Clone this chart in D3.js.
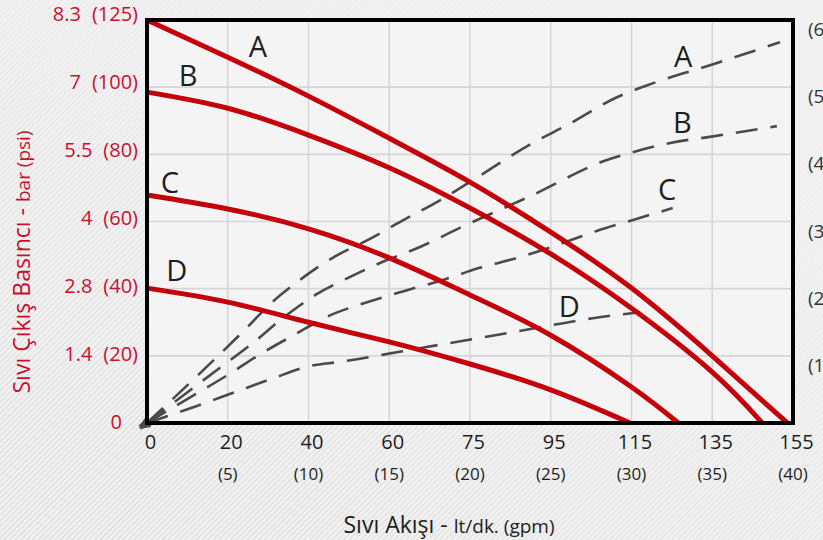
<!DOCTYPE html>
<html lang="tr">
<head>
    <meta charset="utf-8">
    <title>Pompa performans egrisi</title>
    <script type="text/javascript" src="https://d3js.org/d3.v7.min.js"></script>
    <style>
        html, body {
            margin: 0;
            padding: 0;
            width: 100%;
            height: 100%;
            overflow: hidden;
            background: #efefef;
        }
        text {
            font-family: "Open Sans", "Noto Sans", sans-serif;
        }
        .grid line {
            stroke: #d6d6d6;
            stroke-width: 1.6px;
        }
        path.pressure {
            fill: none;
            stroke: #c4000b;
            stroke-width: 5px;
        }
        path.air {
            fill: none;
            stroke: #4a4a4a;
            stroke-width: 2.6px;
            stroke-dasharray: 22, 13;
        }
        .redText { fill: #c8102e; }
        .darkText { fill: #1e1e1e; }
    </style>
</head>
<body>
<script type="text/javascript">

    // tick labels
    var flowTicks = [0, 20, 40, 60, 75, 95, 115, 135, 155];        // lt/dk
    var gpmTicks = ["", "(5)", "(10)", "(15)", "(20)", "(25)", "(30)", "(35)", "(40)"];
    var barTicks = [0, 1.4, 2.8, 4, 5.5, 7, 8.3];
    var psiTicks = ["", "(20)", "(40)", "(60)", "(80)", "(100)", "(125)"];
    var rightTicks = [10, 20, 30, 40, 50, 60];

    // outlet pressure curves [lt/dk, bar]
    var pressA = [[0, 8.3], [20, 7.58], [40, 6.8], [60, 5.86], [75, 4.88], [95, 3.81], [115, 2.81], [135, 1.4], [153.6, 0]];
    var pressB = [[0, 6.89], [20, 6.53], [40, 5.93], [60, 5.2], [75, 4.3], [95, 3.42], [115, 2.39], [135, 1.06], [147.4, 0]];
    var pressC = [[0, 4.59], [20, 4.28], [40, 3.87], [60, 3.35], [75, 2.67], [95, 1.83], [115, 0.75], [126.6, 0]];
    var pressD = [[0, 2.81], [20, 2.52], [40, 2.1], [60, 1.69], [75, 1.23], [95, 0.69], [114.6, 0]];

    // air consumption curves [lt/dk, right axis value]
    var airA = [[0, 0], [16.6, 9.4], [23.6, 13.5], [31, 18], [37.2, 21], [46, 24.6], [55.2, 27.4], [62.6, 30.2], [69.5, 33.2], [75.8, 36.2], [90.6, 41.7], [99.2, 44.4], [111.4, 48.5], [120.4, 50.6], [136.2, 53.6], [151.8, 56.7]];
    var airB = [[0, 0], [18, 8.2], [26, 11.8], [33.6, 15.6], [41.8, 19.1], [49.8, 21.6], [58.4, 24], [65.7, 26.2], [73.5, 29.2], [90.4, 33.9], [108.2, 39], [115.2, 40.3], [124.6, 41.7], [134.4, 42.6], [151, 44.2]];
    var airC = [[0, 0], [10.9, 3.9], [19.6, 7.0], [28.2, 10.3], [36.4, 13.1], [45.6, 16.1], [51.5, 17.4], [63, 19.7], [70, 21.3], [77.4, 23.1], [86.8, 24.6], [96.6, 26.5], [106.4, 28.6], [115.2, 30.2], [125.2, 32.0]];
    var airD = [[0, 0], [12.2, 2.5], [21.8, 4.6], [31, 6.6], [40.4, 8.5], [47.8, 9.1], [61.9, 10.6], [71.2, 11.9], [81.6, 13.1], [95.6, 14.6], [105.4, 15.6], [117.2, 16.5]];

    // curve letters
    var curveNames = ["A", "B", "C", "D"];
    var pressLabelPos = [[27.5, 7.79], [10.2, 7.22], [5.7, 4.86], [7.4, 3.13]];
    var airLabelPos = [[127.8, 54.5], [127.6, 44.7], [123.8, 34.8], [99.6, 17.3]];

    var margin = {left: 147, right: 30, top: 20, bottom: 117};
    var width = 823 - margin.left - margin.right;
    var height = 540 - margin.top - margin.bottom;

    // equally spaced ticks -> polylinear scales
    var x = d3.scaleLinear()
        .domain(flowTicks)
        .range(flowTicks.map(function(d, i) { return i * width / (flowTicks.length - 1); }));
    var y = d3.scaleLinear()
        .domain(barTicks)
        .range(barTicks.map(function(d, i) { return height - i * height / (barTicks.length - 1); }));
    var yR = d3.scaleLinear().domain([0, 60]).range([height, 0]);

    var svg = d3.select("body").append("svg").attr("width", 823).attr("height", 540);
    var defs = svg.append("defs");

    // faint diagonal hatching, stronger bottom-left
    var hatch = defs.append("pattern").attr("id", "hatch")
        .attr("width", 4).attr("height", 4)
        .attr("patternUnits", "userSpaceOnUse")
        .attr("patternTransform", "rotate(45)");
    hatch.append("line").attr("x1", 0).attr("y1", 0).attr("x2", 0).attr("y2", 4)
        .attr("stroke", "#c6c6c6").attr("stroke-width", 1.2);
    var fade = defs.append("linearGradient").attr("id", "fade")
        .attr("x1", 0).attr("y1", 1).attr("x2", 0.8).attr("y2", 0);
    fade.append("stop").attr("offset", 0).attr("stop-color", "#fff");
    fade.append("stop").attr("offset", 1).attr("stop-color", "#000");
    defs.append("mask").attr("id", "fadeMask")
        .append("rect").attr("width", 823).attr("height", 540).attr("fill", "url(#fade)");

    defs.append("marker").attr("id", "arrow")
        .attr("viewBox", "0 0 10 10").attr("refX", 1).attr("refY", 5)
        .attr("markerWidth", 5).attr("markerHeight", 4)
        .attr("orient", "auto-start-reverse")
        .append("path").attr("d", "M0,0 L10,5 L0,10 z").attr("fill", "#4a4a4a");

    svg.append("rect").attr("width", 823).attr("height", 540).attr("fill", "#f1f1f1");
    svg.append("rect").attr("width", 823).attr("height", 540)
        .attr("fill", "url(#hatch)").attr("mask", "url(#fadeMask)");

    var g = svg.append("g").attr("transform", "translate(" + margin.left + "," + margin.top + ")");

    g.append("rect").attr("width", width).attr("height", height).attr("fill", "#f4f4f4");

    // grid
    g.append("g").attr("class", "grid")
        .selectAll("line.v").data(flowTicks.slice(1, -1)).enter().append("line")
        .attr("x1", function(d) { return x(d); }).attr("x2", function(d) { return x(d); })
        .attr("y1", 0).attr("y2", height);
    g.append("g").attr("class", "grid")
        .selectAll("line.h").data(barTicks.slice(1, -1)).enter().append("line")
        .attr("y1", function(d) { return y(d); }).attr("y2", function(d) { return y(d); })
        .attr("x1", 0).attr("x2", width);

    // dashed air curves
    var airLine = d3.line()
        .x(function(d) { return x(d[0]); })
        .y(function(d) { return yR(d[1]); })
        .curve(d3.curveMonotoneX);
    g.selectAll("path.air").data([airA, airB, airC, airD]).enter().append("path")
        .attr("class", "air")
        .attr("marker-start", "url(#arrow)")
        .attr("d", airLine);

    // pressure curves
    var pressLine = d3.line()
        .x(function(d) { return x(d[0]); })
        .y(function(d) { return y(d[1]); })
        .curve(d3.curveNatural);
    g.selectAll("path.pressure").data([pressA, pressB, pressC, pressD]).enter().append("path")
        .attr("class", "pressure")
        .attr("d", pressLine);

    // curve letters
    g.selectAll("text.pl").data(pressLabelPos).enter().append("text")
        .attr("class", "darkText")
        .attr("x", function(d) { return x(d[0]); })
        .attr("y", function(d) { return y(d[1]); })
        .attr("dy", "0.36em")
        .attr("text-anchor", "middle")
        .style("font-size", "29px")
        .text(function(d, i) { return curveNames[i]; });
    g.selectAll("text.al").data(airLabelPos).enter().append("text")
        .attr("class", "darkText")
        .attr("x", function(d) { return x(d[0]); })
        .attr("y", function(d) { return yR(d[1]); })
        .attr("dy", "0.36em")
        .attr("text-anchor", "middle")
        .style("font-size", "29px")
        .text(function(d, i) { return curveNames[i]; });

    // frame
    g.append("rect").attr("width", width).attr("height", height)
        .attr("fill", "none").attr("stroke", "#000").attr("stroke-width", 4);

    // x axis labels
    var xAxis = d3.axisBottom(x).tickValues(flowTicks).tickSize(0).tickPadding(12);
    var xg = g.append("g").attr("transform", "translate(0," + height + ")").call(xAxis);
    xg.select(".domain").remove();
    xg.selectAll("text").attr("class", "darkText").attr("dx", 3)
        .style("font-size", "20px").style("font-family", "'Open Sans', sans-serif");

    g.selectAll("text.gpm").data(flowTicks).enter().append("text")
        .attr("class", "darkText")
        .attr("x", function(d) { return x(d); })
        .attr("y", height + 57)
        .attr("text-anchor", "middle")
        .style("font-size", "17px")
        .text(function(d, i) { return gpmTicks[i]; });

    // left labels: "bar  (psi)" in one line, right aligned to the frame
    var leftLab = g.selectAll("text.leftLab").data(barTicks).enter().append("text")
        .attr("class", "redText leftLab")
        .attr("text-anchor", "end")
        .attr("x", function(d) { return d === 0 ? -25 : -9; })
        .attr("y", function(d) { return y(d); })
        .attr("dy", function(d, i) { return (-0.04 * i + 0.3) + "em"; })
        .style("font-size", "20px");
    leftLab.append("tspan").text(function(d) { return d; });
    leftLab.append("tspan").attr("dx", 11).text(function(d, i) { return psiTicks[i]; });

    // right axis labels (cut by the edge, as in the source)
    g.selectAll("text.right").data(rightTicks).enter().append("text")
        .attr("fill", "#333")
        .attr("x", width + 15)
        .attr("y", function(d) { return yR(d); })
        .attr("dy", "0.85em")
        .style("font-size", "19px")
        .text(function(d) { return "(" + d + ")"; });

    // axis titles
    var xt = svg.append("text").attr("class", "darkText")
        .attr("x", 449).attr("y", 533).attr("text-anchor", "middle");
    xt.append("tspan").style("font-size", "23px").text("Sıvı Akışı - ");
    xt.append("tspan").style("font-size", "19px").text(" lt/dk. (gpm)");

    var yt = svg.append("text").attr("class", "redText")
        .attr("transform", "translate(30,262) rotate(-90)")
        .attr("text-anchor", "middle");
    yt.append("tspan").style("font-size", "23px").text("Sıvı Çıkış Basıncı  -  ");
    yt.append("tspan").style("font-size", "19px").text("bar (psi)");

</script>
</body>
</html>
